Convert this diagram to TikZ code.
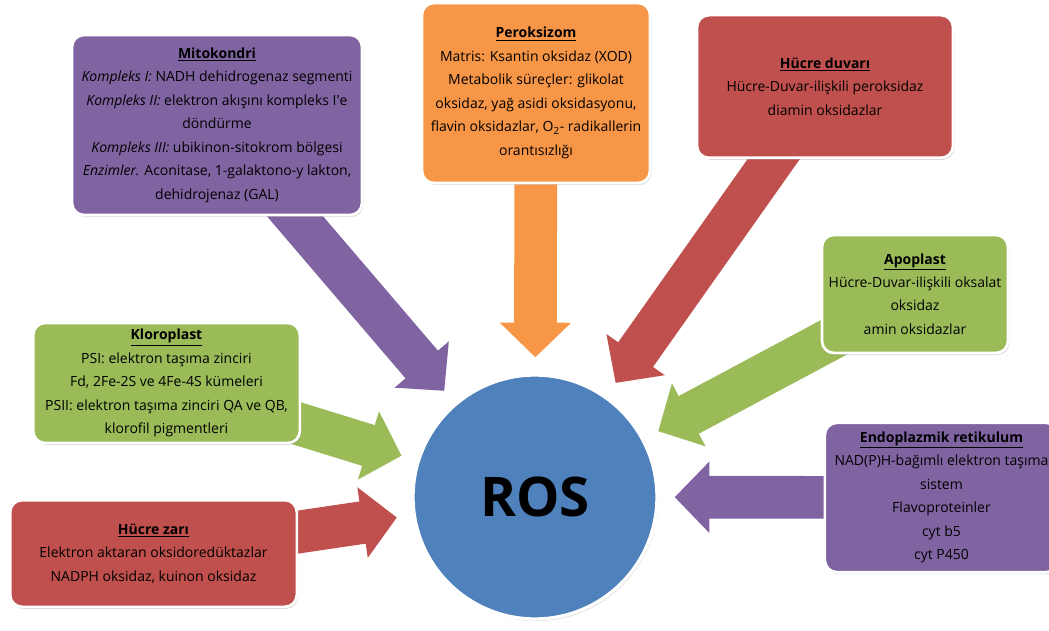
\documentclass[tikz,border=0pt]{standalone}
\usepackage{fontspec}
\setmainfont{Open Sans}
\usepackage{xcolor}
\usepackage{tikz}
\usetikzlibrary{positioning, arrows.meta, shadows, backgrounds, calc}
\definecolor{rPurple}{HTML}{8064A2}
\definecolor{rOrange}{HTML}{F79646}
\definecolor{rRed}{HTML}{C0504D}
\definecolor{rGreen}{HTML}{9BBB59}
\definecolor{rBlue}{HTML}{4F81BD}
\newcommand{\btitle}[1]{\underline{\textbf{#1}}}

\begin{document}
\begin{tikzpicture}[x=0.75pt, y=-0.75pt,
          compbox/.style={draw=white, line width=2pt, rounded corners=9pt, align=center,
            font=\fontsize{10.5}{17.6}\selectfont, text=black,
            drop shadow={shadow xshift=1pt, shadow yshift=-1.5pt, opacity=0.3}},
          flow/.style={line width=32pt, -{Triangle[length=26pt, width=52pt]}, shorten >=12pt}]
        \useasboundingbox (0,0) rectangle (1049,631);
        \node[compbox, fill=rPurple, minimum width=217.5pt, minimum height=135pt] (mito) at (217,125)
          {\btitle{Mitokondri}\\
           \textit{Kompleks I:} NADH dehidrogenaz segmenti\\
           \textit{Kompleks II:} elektron akışını kompleks I\textquotesingle e\\
           döndürme\\
           \textit{Kompleks III:} ubikinon-sitokrom bölgesi\\
           \textit{Enzimler.} Aconitase, 1-galaktono-y lakton,\\
           dehidrojenaz (GAL)};
        \node[compbox, fill=rOrange, minimum width=171pt, minimum height=135pt] (perox) at (536,93)
          {\btitle{Peroksizom}\\
           Matris: Ksantin oksidaz (XOD)\\
           Metabolik süreçler: glikolat\\
           oksidaz, yağ asidi oksidasyonu,\\
           flavin oksidazlar, O\textsubscript{2}- radikallerin\\
           orantısızlığı};
        \node[compbox, fill=rRed, minimum width=192pt, minimum height=107pt] (duvar) at (825,86.5)
          {\btitle{Hücre duvarı}\\
           Hücre-Duvar-ilişkili peroksidaz\\
           diamin oksidazlar};
        \node[compbox, fill=rGreen, minimum width=139.5pt, minimum height=88.5pt] (apo) at (915,294)
          {\btitle{Apoplast}\\
           Hücre-Duvar-ilişkili oksalat\\
           oksidaz\\
           amin oksidazlar};
        \node[compbox, fill=rGreen, minimum width=200pt, minimum height=90pt] (klor) at (166.5,383)
          {\btitle{Kloroplast}\\
           PSI: elektron taşıma zinciri\\
           Fd, 2Fe-2S ve 4Fe-4S kümeleri\\
           PSII: elektron taşıma zinciri QA ve QB,\\
           klorofil pigmentleri};
        \node[compbox, fill=rPurple, minimum width=175pt, minimum height=112pt] (er) at (941.5,497.5)
          {\btitle{Endoplazmik retikulum}\\
           NAD(P)H-bağımlı elektron taşıma\\
           sistem\\
           Flavoproteinler\\
           cyt b5\\
           cyt P450};
        \node[compbox, fill=rRed, minimum width=215pt, minimum height=80pt] (zar) at (153.5,553.5)
          {\btitle{Hücre zarı}\\
           Elektron aktaran oksidoredüktazlar\\
           NADPH oksidaz, kuinon oksidaz};
        \node[circle, draw=white, line width=2.5pt, fill=rBlue, minimum size=183pt,
          font=\fontsize{41}{46}\selectfont\bfseries,
          drop shadow={shadow xshift=1pt, shadow yshift=-1.5pt, opacity=0.3}] (ros) at (535,497) {ROS};
        \begin{scope}[on background layer]
          \draw[flow, rPurple] (mito.center) -- (ros);
          \draw[flow, rOrange] (perox.center) -- (ros);
          \draw[flow, rRed] (duvar.center) -- (ros);
          \draw[flow, rGreen] (apo.center) -- (ros);
          \draw[flow, rGreen] (klor.center) -- (ros);
          \draw[flow, rPurple] (er.center) -- (ros);
          \draw[flow, rRed] (zar.center) -- (ros);
        \end{scope}
      \end{tikzpicture}
\end{document}
